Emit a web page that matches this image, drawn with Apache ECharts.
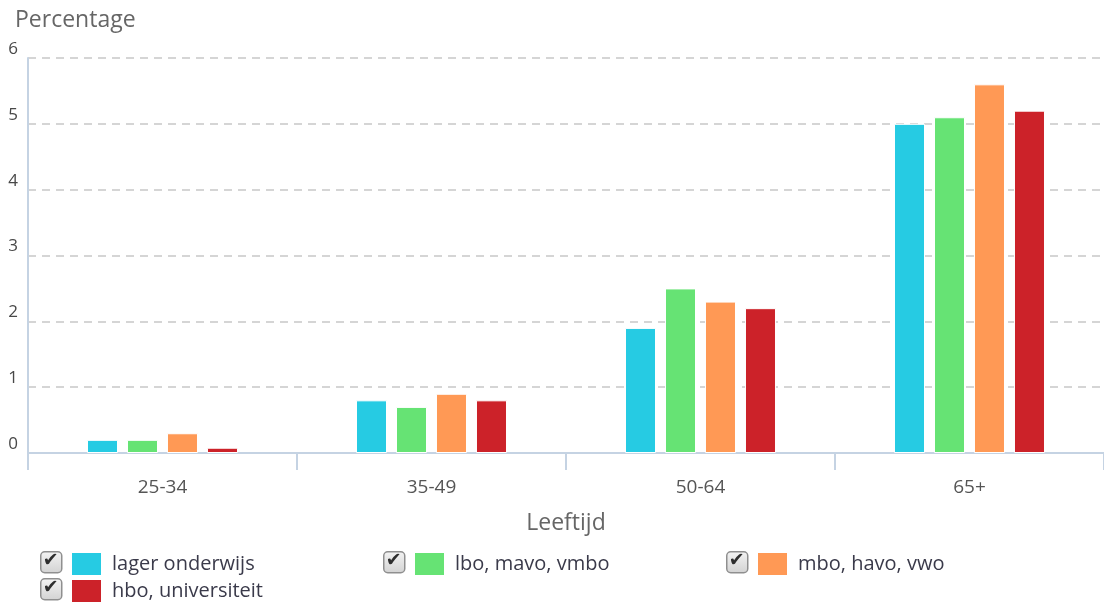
<!DOCTYPE html>
<html>
<head>
<meta charset="utf-8">
<script src="https://cdn.jsdelivr.net/npm/echarts@6/dist/echarts.min.js"></script>
<style>
  html, body { margin: 0; padding: 0; background: #fff; }
  #main { width: 1104px; height: 605px; }
</style>
</head>
<body>
<div id="main"></div>
<script>
// leeftijdsgroepen
var categories = ['25-34', '35-49', '50-64', '65+'];
var seriesNames = ['lager onderwijs', 'lbo, mavo, vmbo', 'mbo, havo, vwo', 'hbo, universiteit'];
var colors = ['#26cbe3', '#66e374', '#ff9955', '#cc2229'];

var lagerOnderwijs = [0.2, 0.8, 1.9, 5.0];
var lboMavoVmbo = [0.2, 0.7, 2.5, 5.1];
var mboHavoVwo = [0.3, 0.9, 2.3, 5.6];
var hboUniversiteit = [0.08, 0.8, 2.2, 5.2];
var seriesData = [lagerOnderwijs, lboMavoVmbo, mboHavoVwo, hboUniversiteit];

var yTicks = [0, 1, 2, 3, 4, 5, 6];

// legenda posities (checkbox + vierkantje + tekst)
var legendPos = [[70, 551], [413, 551], [756, 551], [70, 578]];

var chart = echarts.init(document.getElementById('main'));

var series = seriesNames.map(function (name, i) {
    return {
        name: name,
        type: 'bar',
        data: seriesData[i],
        barWidth: 31,
        barGap: '29%',
        itemStyle: { color: colors[i], borderColor: '#fff', borderWidth: 1 }
    };
});

var legends = seriesNames.map(function (name, i) {
    return {
        data: [name],
        left: legendPos[i][0],
        top: legendPos[i][1],
        padding: 0,
        icon: 'rect',
        itemWidth: 31,
        itemHeight: 24,
        selectedMode: false,
        textStyle: { color: '#3a3a4a', fontSize: 20, fontFamily: 'Open Sans', padding: [0, 0, 0, 5] }
    };
});

// checkboxjes voor de legenda
var checkboxes = legendPos.map(function (p) {
    return {
        type: 'group',
        left: p[0] - 30,
        top: p[1],
        children: [{
            type: 'rect',
            shape: { x: 0, y: 0, width: 21, height: 21, r: 4 },
            style: {
                fill: new echarts.graphic.LinearGradient(0, 0, 0, 1, [
                    { offset: 0, color: '#f4f4f4' }, { offset: 1, color: '#d2d2d2' }
                ]),
                stroke: '#8f8f8f', lineWidth: 1.5
            }
        }, {
            type: 'text',
            x: 2, y: 0,
            style: { text: '\u2714', fill: '#2e2e2e', font: 'bold 19px DejaVu Sans' }
        }]
    };
});

var option = {
    animation: false,
    title: {
        text: 'Percentage',
        left: 10, top: 4,
        textStyle: { color: '#666', fontSize: 23, fontWeight: 'normal', fontFamily: 'Open Sans' }
    },
    legend: legends,
    graphic: checkboxes,
    grid: { left: 28, right: 0, top: 58, bottom: 152, containLabel: false },
    xAxis: {
        type: 'category',
        data: categories,
        name: 'Leeftijd',
        nameLocation: 'middle',
        nameGap: 70,
        nameTextStyle: { color: '#666', fontSize: 23, fontFamily: 'Open Sans', verticalAlign: 'middle' },
        axisLine: { lineStyle: { color: '#c5d3e3', width: 2 } },
        axisTick: { show: true, length: 17, lineStyle: { color: '#c5d3e3', width: 2 } },
        axisLabel: { color: '#555', fontSize: 19, fontFamily: 'Open Sans', margin: 25 }
    },
    yAxis: {
        type: 'value',
        min: yTicks[0],
        max: yTicks[yTicks.length - 1],
        interval: 1,
        axisLine: { show: true, lineStyle: { color: '#c5d3e3', width: 2 } },
        axisTick: { show: false },
        axisLabel: {
            color: '#484848', fontSize: 17, fontFamily: 'Open Sans', margin: 10,
            verticalAlign: 'bottom', lineHeight: 18
        },
        splitLine: { lineStyle: { color: '#c8c8c8', type: [8, 6], width: 1.5 } }
    },
    series: series
};

chart.setOption(option);
</script>
</body>
</html>
